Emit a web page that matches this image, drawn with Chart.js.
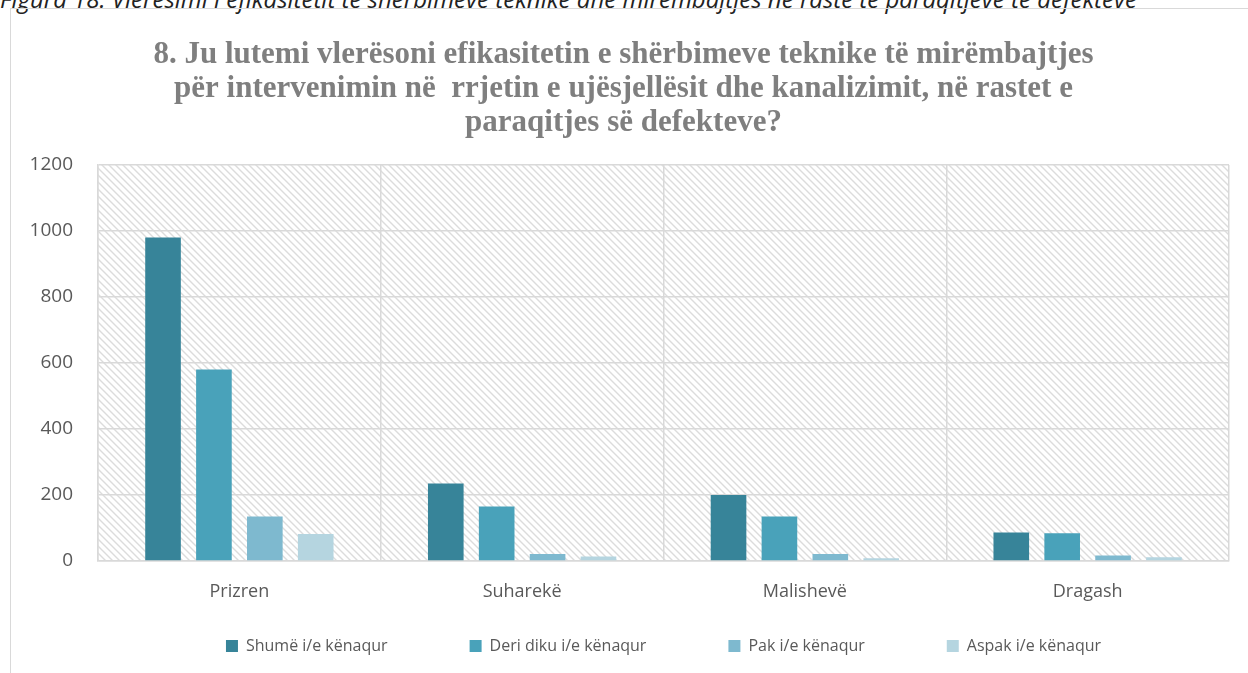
<!DOCTYPE html>
<html>
<head>
<meta charset="utf-8">
<script src="https://cdn.jsdelivr.net/npm/chart.js@4/dist/chart.umd.min.js"></script>
<style>
  html, body { margin: 0; padding: 0; background: #fff; width: 1248px; height: 673px; overflow: hidden; }
  #caption { position: absolute; left: 0; top: -18px; line-height: 24px; white-space: nowrap; font: italic 24px "Open Sans", sans-serif; color: #222; }
  #frame { position: absolute; left: 10px; top: 8px; width: 1260px; height: 700px; border: 1px solid #d9d9d9; box-sizing: border-box; }
  #wrap { position: absolute; left: 0; top: 0; width: 1248px; height: 673px; }
</style>
</head>
<body>
<div id="caption">Figura 18: Vlerësimi i efikasitetit të shërbimeve teknike dhe mirëmbajtjes në raste të paraqitjeve të defekteve</div>
<div id="frame"></div>
<div id="wrap"><canvas id="c" width="1248" height="673"></canvas></div>
<script>
const categories = ['Prizren', 'Suharekë', 'Malishevë', 'Dragash'];
const seriesNames = ['Shumë i/e kënaqur', 'Deri diku i/e kënaqur', 'Pak i/e kënaqur', 'Aspak i/e kënaqur'];
const shume = [980, 235, 200, 86];
const deriDiku = [580, 165, 135, 84];
const pak = [135, 21, 21, 17];
const aspak = [82, 14, 8, 11];
const yTickValues = [0, 200, 400, 600, 800, 1000, 1200];
const titleLines = [
  '8. Ju lutemi vlerësoni efikasitetin e shërbimeve teknike të mirëmbajtjes',
  'për intervenimin në  rrjetin e ujësjellësit dhe kanalizimit, në rastet e',
  'paraqitjes së defekteve?'
];
const colors = ['#378499', '#49A2BA', '#7EB9CF', '#B5D5E0'];

function makePattern() {
  const p = document.createElement('canvas');
  const s = 7;
  p.width = s; p.height = s;
  const g = p.getContext('2d');
  g.strokeStyle = '#dcdcdc';
  g.lineWidth = 1.4;
  g.beginPath();
  g.moveTo(-1, -1); g.lineTo(s + 1, s + 1);
  g.moveTo(-1, s - 1); g.lineTo(1, s + 1);
  g.moveTo(s - 1, -1); g.lineTo(s + 1, 1);
  g.stroke();
  return document.getElementById('c').getContext('2d').createPattern(p, 'repeat');
}
const hatch = makePattern();

const layoutPlugin = {
  id: 'tweakLayout',
  afterLayout(chart) {
    // let x tick labels extend below the thin axis box
    const x = chart.scales.x;
    x.bottom = x.top + 60;
    x.height = 60;
    // centre the legend on the plot area and lift it slightly
    const lg = chart.legend;
    const a = chart.chartArea;
    lg.left = a.left; lg.right = a.right; lg.width = a.right - a.left;
    lg.top -= 8; lg.bottom -= 8;
    // nudge title to match
    if (chart.titleBlock) { chart.titleBlock.left += 4; chart.titleBlock.right += 4; }
  },
  beforeDraw(chart) {
    const a = chart.chartArea;
    const ctx = chart.ctx;
    ctx.save();
    ctx.fillStyle = hatch;
    ctx.fillRect(a.left, a.top, a.right - a.left, a.bottom - a.top);
    ctx.restore();
  }
};

const dataSeries = [shume, deriDiku, pak, aspak];
new Chart(document.getElementById('c'), {
  type: 'bar',
  data: {
    labels: categories,
    datasets: dataSeries.map((d, i) => ({
      label: seriesNames[i],
      data: d,
      backgroundColor: colors[i],
      borderWidth: 0,
      categoryPercentage: 0.72,
      barPercentage: 0.7
    }))
  },
  options: {
    responsive: false,
    animation: false,
    devicePixelRatio: 1,
    layout: { padding: { left: 10, right: 19, top: 0, bottom: 1 } },
    plugins: {
      title: {
        display: true,
        text: titleLines,
        color: '#7f7f7f',
        font: { family: '"Liberation Serif", serif', size: 31, weight: 'bold', lineHeight: 34 / 31 },
        padding: { top: 38, bottom: 25 }
      },
      legend: {
        position: 'bottom',
        labels: {
          color: '#595959',
          font: { family: '"Open Sans", sans-serif', size: 16 },
          boxWidth: 12,
          boxHeight: 12,
          padding: 82
        }
      },
      tooltip: { enabled: false }
    },
    scales: {
      x: {
        grid: { color: '#d9d9d9', lineWidth: 1.5, drawTicks: false, offset: true },
        border: { display: true, color: '#d9d9d9', width: 1.5 },
        ticks: { color: '#595959', font: { family: '"Open Sans", sans-serif', size: 18 }, padding: 20 },
        afterFit(scale) { scale.height = 3; }
      },
      y: {
        min: 0,
        max: 1200,
        afterBuildTicks(scale) { scale.ticks = yTickValues.map(v => ({ value: v })); },
        grid: { color: '#d9d9d9', lineWidth: 1.5, drawTicks: false },
        border: { display: true, color: '#d9d9d9', width: 1.5 },
        ticks: { color: '#595959', font: { family: '"Open Sans", sans-serif', size: 19 }, padding: 25, callback: v => String(v) },
        afterFit(scale) { scale.width = 88; }
      }
    }
  },
  plugins: [layoutPlugin]
});
</script>
</body>
</html>
